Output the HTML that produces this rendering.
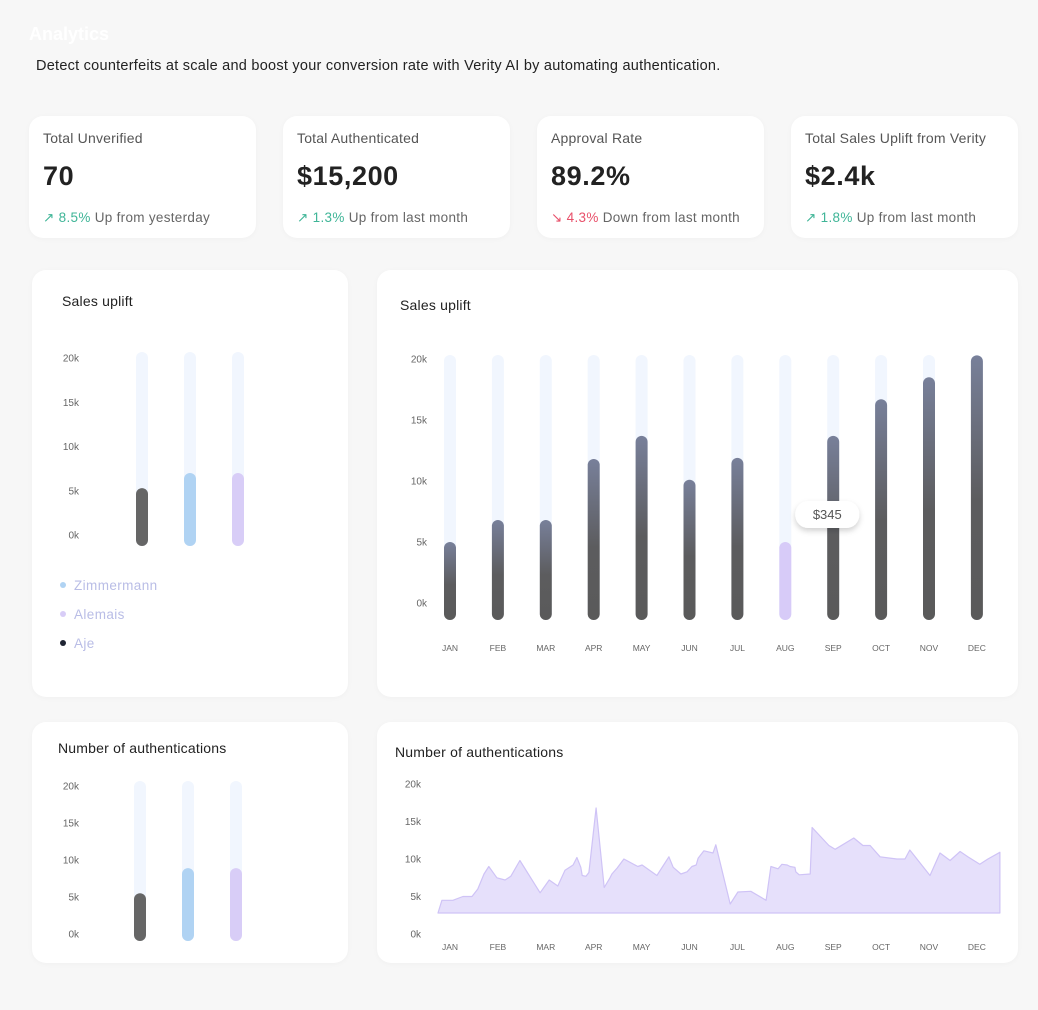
<!DOCTYPE html>
<html><head><meta charset="utf-8"><style>
*{box-sizing:border-box;margin:0;padding:0}
body{width:1038px;height:1010px;background:#f7f7f7;font-family:"Liberation Sans",sans-serif;position:relative;overflow:hidden}
.card{position:absolute;background:#fff;border-radius:14px;box-shadow:0 1px 6px rgba(0,0,0,0.03)}
.kt{position:absolute;left:14px;top:14px;font-size:14px;color:#555;letter-spacing:0.2px}
.kv{position:absolute;left:14px;top:45px;font-size:27px;font-weight:bold;color:#222;letter-spacing:0.6px}
.kd{position:absolute;left:14px;top:94px;font-size:13.5px;color:#666;white-space:nowrap;letter-spacing:0.3px}
.up{color:#3fb597}.dn{color:#e8506a}
.ct{position:absolute;font-size:14px;color:#222;letter-spacing:0.2px}
svg text{font-family:"Liberation Sans",sans-serif}
</style></head><body>
<div style="position:absolute;left:29px;top:24px;font-size:18px;color:#fff;font-weight:bold">Analytics</div>
<div style="position:absolute;left:36px;top:58px;font-size:14.5px;color:#222;letter-spacing:0.25px">Detect counterfeits at scale and boost your conversion rate with Verity AI by automating authentication.</div>

<div class="card" style="left:29px;top:116px;width:227px;height:122px"><div class="kt">Total Unverified</div><div class="kv">70</div><div class="kd"><span class="up">&#x2197;&#xFE0E; 8.5%</span> Up from yesterday</div></div>
<div class="card" style="left:283px;top:116px;width:227px;height:122px"><div class="kt">Total Authenticated</div><div class="kv">$15,200</div><div class="kd"><span class="up">&#x2197;&#xFE0E; 1.3%</span> Up from last month</div></div>
<div class="card" style="left:537px;top:116px;width:227px;height:122px"><div class="kt">Approval Rate</div><div class="kv">89.2%</div><div class="kd"><span class="dn">&#x2198;&#xFE0E; 4.3%</span> Down from last month</div></div>
<div class="card" style="left:791px;top:116px;width:227px;height:122px"><div class="kt">Total Sales Uplift from Verity</div><div class="kv">$2.4k</div><div class="kd"><span class="up">&#x2197;&#xFE0E; 1.8%</span> Up from last month</div></div>

<div class="card" style="left:32px;top:270px;width:316px;height:427px"></div>
<div class="card" style="left:377px;top:270px;width:641px;height:427px"></div>
<div class="card" style="left:32px;top:722px;width:316px;height:241px"></div>
<div class="card" style="left:377px;top:722px;width:641px;height:241px"></div>

<div class="ct" style="left:62px;top:293px">Sales uplift</div>
<div class="ct" style="left:400px;top:297px">Sales uplift</div>
<div class="ct" style="left:58px;top:740px">Number of authentications</div>
<div class="ct" style="left:395px;top:744px">Number of authentications</div>

<svg id="charts" width="1038" height="1010" style="position:absolute;left:0;top:0">
<defs>
<linearGradient id="gd" x1="0" y1="0" x2="0" y2="1"><stop offset="0" stop-color="#78809a"/><stop offset="0.55" stop-color="#5c5c5e"/><stop offset="1" stop-color="#5a5a5a"/></linearGradient>
<filter id="sh" x="-30%" y="-50%" width="160%" height="220%"><feDropShadow dx="0" dy="3" stdDeviation="3" flood-opacity="0.18"/></filter>
</defs>
</svg>

<script>
const yTicks = ["0k","5k","10k","15k","20k"];
const yTickVals = [0,5,10,15,20];
const brands = ["Aje","Zimmermann","Alemais"];
const brandSales = [5.3, 7.0, 7.0];
const brandAuth = [5.5, 8.9, 8.9];
const months = ["JAN","FEB","MAR","APR","MAY","JUN","JUL","AUG","SEP","OCT","NOV","DEC"];
const monthlySales = [5.0, 6.8, 6.8, 11.8, 13.7, 10.1, 11.9, 5.0, 13.7, 16.7, 18.5, 20.3];
const highlightMonth = "AUG";
const tooltipText = "$345";
const authT = [-0.25,-0.17,0.06,0.27,0.46,0.58,0.71,0.81,0.98,1.15,1.27,1.46,1.88,2.07,2.25,2.40,2.57,2.65,2.73,2.76,2.84,2.90,3.05,3.22,3.34,3.38,3.49,3.63,3.92,4.01,4.32,4.57,4.66,4.82,4.95,5.05,5.14,5.18,5.30,5.49,5.55,5.85,6.01,6.28,6.60,6.70,6.85,6.93,7.04,7.10,7.20,7.22,7.29,7.52,7.56,7.91,8.04,8.43,8.62,8.77,8.98,9.33,9.50,9.60,10.02,10.23,10.44,10.65,10.81,11.06,11.23,11.48];
const authV = [2.8,4.5,4.5,5.0,5.0,6.0,8.0,9.0,7.5,7.2,7.7,9.8,5.5,7.2,6.4,8.5,9.2,10.2,8.9,7.8,7.7,8.2,16.8,6.2,7.5,8.0,8.8,10.0,9.0,9.2,7.8,10.3,8.9,8.0,8.3,9.0,9.2,10.1,11.1,10.8,11.9,4.0,5.6,5.7,4.5,9.0,8.7,9.3,9.2,9.0,8.9,8.3,7.9,8.0,14.2,11.8,11.3,12.8,11.8,11.8,10.3,10.0,10.0,11.2,7.8,10.8,9.8,11.0,10.3,9.3,10.0,10.9];
const authBase = 2.8;

const svg = document.getElementById('charts');
const NS = 'http://www.w3.org/2000/svg';
function mk(tag, attrs, txt){const e=document.createElementNS(NS,tag);for(const k in attrs)e.setAttribute(k,attrs[k]);if(txt!==undefined)e.textContent=txt;svg.appendChild(e);return e;}

function yAxis(x, y0, y1, name){
  const sc=v=>y0-(v/20)*(y0-y1);
  yTickVals.forEach((v,i)=>{
    const t=mk('text',{x:x,y:sc(v)+3.5,'text-anchor':'end','font-size':'10',fill:'#666'},yTicks[i]);
    
    
  });
  return sc;
}
const brandColors={"Aje":"#666666","Zimmermann":"#b0d3f3","Alemais":"#d8cdf7"};
function brandChart(vals, xs, trackTop, bottom, y0, y1, name){
  const sc=yAxis(79, y0, y1, name);
  vals.forEach((v,i)=>{
    const tr=mk('rect',{x:xs[i]-6,y:trackTop,width:12,height:bottom-trackTop,rx:6,fill:'#f1f6fe'});
    
    
    const top=sc(v);
    const b=mk('rect',{x:xs[i]-6,y:top,width:12,height:bottom-top,rx:6,fill:brandColors[brands[i]]});
    
    
  });
}
brandChart(brandSales,[142,190,238],352,546,535,358,'sales-brand');
brandChart(brandAuth,[140,188,236],781,941,934,786,'auth-brand');

const legend=[["Zimmermann","#b0d3f3"],["Alemais","#d8cdf7"],["Aje","#1f2433"]];
legend.forEach((l,i)=>{
  const c=mk('circle',{cx:63,cy:585+i*29,r:3,fill:l[1]});
  
  
  const t=mk('text',{x:74,y:590+i*29,'font-size':'13.5',fill:'#b9bde6','letter-spacing':'0.4'},l[0]);
  
  
});

(function(){
  const sc=yAxis(427,603,359,'sales-monthly');
  const mx=i=>450+i*47.9;
  const bottom=620, trackTop=355;
  monthlySales.forEach((v,i)=>{
    const x=mx(i);
    const tr=mk('rect',{x:x-6,y:trackTop,width:12,height:bottom-trackTop,rx:6,fill:'#f1f6fe'});
    
    
    const top=sc(v);
    const b=mk('rect',{x:x-6,y:top,width:12,height:bottom-top,rx:6,fill:months[i]===highlightMonth?'#d7cbf8':'url(#gd)'});
    
    
    const t=mk('text',{x:x,y:651,'text-anchor':'middle','font-size':'8.5',fill:'#666'},months[i]);
    
    
  });
  const hi=months.indexOf(highlightMonth);
  const tx=mx(hi)+42;
  const tip=mk('rect',{x:tx-32,y:501,width:64,height:27,rx:13,fill:'#fff',filter:'url(#sh)'});
  
  
  const tt=mk('text',{x:tx,y:519,'text-anchor':'middle','font-size':'13',fill:'#555'},tooltipText);
  
  
})();

(function(){
  const sc=yAxis(421,934,784,'auth-timeline');
  const mx=m=>450+m*47.9;
  let d='M'+mx(authT[0])+','+sc(authBase);
  authT.forEach((t,i)=>{d+=' L'+mx(t).toFixed(1)+','+sc(authV[i]).toFixed(1);});
  d+=' L'+mx(authT[authT.length-1])+','+sc(authBase)+' Z';
  const a=mk('path',{d:d,fill:'#e6e0fb',stroke:'#cfc3f6','stroke-width':'1.2','stroke-linejoin':'round'});
  
  
  months.forEach((m,i)=>{
    const t=mk('text',{x:mx(i),y:950,'text-anchor':'middle','font-size':'8.5',fill:'#666'},m);
    
    
  });
})();
</script>
</body></html>
